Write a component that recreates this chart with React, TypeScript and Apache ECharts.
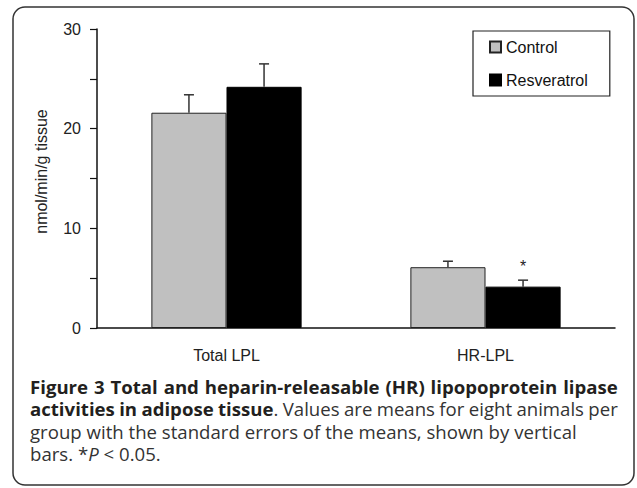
import React, { useEffect, useRef } from "react";
import * as echarts from "echarts";

const categories = ["Total LPL", "HR-LPL"];
const controlValues = [21.6, 6.1];
const controlErrors = [1.8, 0.6];
const resveratrolValues = [24.2, 4.15];
const resveratrolErrors = [2.3, 0.65];
const resveratrolSig = ["", "*"];
const yTicks = [0, 10, 20, 30];

type Seg = { t: string; s: "b" | "r" | "i" };
const captionLines: Seg[][] = [
  [{ t: "Figure 3 Total and heparin-releasable (HR) lipopoprotein lipase", s: "b" }],
  [
    { t: "activities in adipose tissue", s: "b" },
    { t: ". Values are means for eight animals per", s: "r" },
  ],
  [{ t: "group with the standard errors of the means, shown by vertical", s: "r" }],
  [
    { t: "bars. *", s: "r" },
    { t: "P", s: "i" },
    { t: " < 0.05.", s: "r" },
  ],
];
const captionJustify = [true, true, false, false];

const FONT = "'Liberation Sans', Arial, sans-serif";
const CAP_FONT = "'Open Sans', sans-serif";
const CAP_SIZE = 18;

const fontOf = (s: string) =>
  s === "b" ? `bold ${CAP_SIZE}px ${CAP_FONT}` : s === "i" ? `italic ${CAP_SIZE}px ${CAP_FONT}` : `${CAP_SIZE}px ${CAP_FONT}`;

let ctx: CanvasRenderingContext2D | null = null;
function measure(text: string, s: string) {
  if (!ctx) ctx = document.createElement("canvas").getContext("2d");
  ctx!.font = fontOf(s);
  return ctx!.measureText(text).width;
}

function buildLine(segs: Seg[], justify: boolean, target: number, scale: number) {
  const items: { t: string; s: string; space: boolean }[] = [];
  segs.forEach((seg) => {
    const parts = seg.t.split(" ");
    parts.forEach((p, k) => {
      if (k > 0) items.push({ t: " ", s: seg.s, space: true });
      if (p) items.push({ t: p, s: seg.s, space: false });
    });
  });
  const wordW = items.filter((it) => !it.space).reduce((a, it) => a + measure(it.t, it.s), 0);
  const nSp = items.filter((it) => it.space).length;
  const natSp = measure(" ", "r");
  const spW = justify ? (target / scale - wordW) / nSp : natSp;
  return { text: items.map((it) => (it.space ? `{sp|\u00a0}` : `{${it.s}|${it.t}}`)).join(""), spW };
}

export default function App() {
  const ref = useRef<HTMLDivElement>(null);
  useEffect(() => {
    const chart = echarts.init(ref.current!, null, { renderer: "svg" });

    const l3 = captionLines[2][0].t;
    const scale = 547 / measure(l3, "r");
    const ys = [387, 409, 432, 454];
    const captionGraphics = captionLines.map((segs, k) => {
      const { text, spW } = buildLine(segs, captionJustify[k], 588, scale);
      const base = { fontSize: CAP_SIZE, fontFamily: CAP_FONT, fill: "#231f20" };
      return {
        type: "text",
        x: 30,
        y: ys[k],
        scaleX: scale,
        silent: true,
        style: {
          text,
          x: 0,
          y: 0,
          verticalAlign: "middle",
          rich: {
            b: { ...base, fontWeight: "bold" },
            r: { ...base, fill: "#333" },
            i: { ...base, fill: "#333", fontStyle: "italic" },
            sp: { ...base, width: spW },
          },
        },
      };
    });

    const errSeries = (vals: number[], errs: number[], sign: number, sig: string[]) => ({
      type: "custom",
      silent: true,
      z: 5,
      data: vals.map((v, i) => [i, v, errs[i]]),
      renderItem: (params: any, api: any) => {
        const i = api.value(0);
        const v = api.value(1);
        const e = api.value(2);
        const band = api.size([1, 0])[0];
        const base = api.coord([i, v]);
        const top = api.coord([i, v + e]);
        const x = base[0] + sign * band * 0.145;
        const children: any[] = [
          { type: "line", shape: { x1: x, y1: base[1], x2: x, y2: top[1] }, style: { stroke: "#333", lineWidth: 1.5 } },
          { type: "line", shape: { x1: x - 5, y1: top[1], x2: x + 5, y2: top[1] }, style: { stroke: "#333", lineWidth: 1.5 } },
        ];
        const s = sig[params.dataIndex];
        if (s) {
          children.push({
            type: "text",
            style: { text: s, x, y: top[1] - 14, align: "center", verticalAlign: "middle", fontSize: 16, fontFamily: FONT, fill: "#222" },
          });
        }
        return { type: "group", children };
      },
    });

    chart.setOption({
      animation: false,
      grid: { left: 97, right: 22, top: 29, bottom: 160 },
      legend: {
        orient: "vertical",
        left: 473,
        top: 31,
        padding: [8, 22, 8, 16],
        itemGap: 17,
        itemWidth: 11,
        itemHeight: 11,
        borderColor: "#222",
        borderWidth: 1.2,
        borderRadius: 0,
        textStyle: { fontSize: 16, fontFamily: FONT, color: "#111" },
        data: [
          { name: "Control", icon: "rect" },
          { name: "Resveratrol", icon: "rect" },
        ],
      },
      xAxis: {
        type: "category",
        data: categories,
        axisLine: { lineStyle: { color: "#111", width: 1.5 } },
        axisTick: { show: false },
        axisLabel: { fontSize: 16, fontFamily: FONT, color: "#222", margin: 19 },
      },
      yAxis: {
        type: "value",
        min: 0,
        max: 30,
        interval: 10,
        name: "nmol/min/g tissue",
        nameLocation: "middle",
        nameGap: 48,
        nameRotate: 90,
        nameTextStyle: { fontSize: 16, fontFamily: FONT, color: "#222", padding: [0, 0, 0, 14] },
        axisLine: { show: true, lineStyle: { color: "#111", width: 1.5 } },
        axisTick: { show: true, length: 7, lineStyle: { color: "#111", width: 1.2 } },
        minorTick: { show: true, splitNumber: 2, length: 7, lineStyle: { color: "#111", width: 1.2 } },
        splitLine: { show: false },
        axisLabel: {
          fontSize: 16,
          fontFamily: FONT,
          color: "#222",
          margin: 16,
          formatter: (v: number) => (yTicks.includes(v) ? String(v) : ""),
        },
      },
      series: [
        {
          name: "Control",
          type: "bar",
          data: controlValues,
          barGap: "0%",
          barCategoryGap: "42%",
          itemStyle: { color: "#c0c0c0", borderColor: "#222", borderWidth: 1 },
        },
        {
          name: "Resveratrol",
          type: "bar",
          data: resveratrolValues,
          itemStyle: { color: "#000", borderColor: "#000", borderWidth: 1 },
        },
        errSeries(controlValues, controlErrors, -1, ["", ""]),
        errSeries(resveratrolValues, resveratrolErrors, 1, resveratrolSig),
      ],
      graphic: [
        {
          type: "rect",
          shape: { x: 13, y: 7, width: 621, height: 478, r: 12 },
          style: { fill: "none", stroke: "#333", lineWidth: 1.5 },
          silent: true,
        },
        ...captionGraphics,
      ],
    });
    return () => chart.dispose();
  }, []);
  return <div ref={ref} style={{ width: 637, height: 488, position: "absolute", left: 0, top: 0 }} />;
}
